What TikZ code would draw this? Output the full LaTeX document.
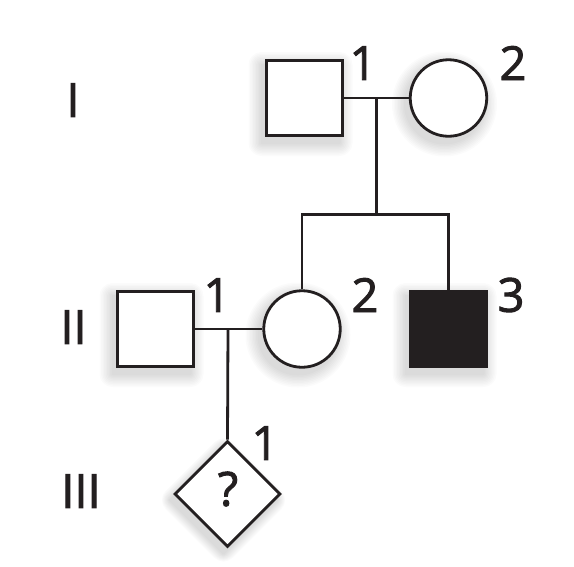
\documentclass[tikz,border=0pt]{standalone}
\usepackage{fontspec}
\setmainfont{Open Sans}
\newfontfamily\labelfont{Open Sans}[FakeBold=2]
\usetikzlibrary{shapes.geometric}
\definecolor{ink}{HTML}{231F20}
\tikzset{
  person/.style={draw=ink, line width=2.8pt, fill=white, inner sep=0pt},
  male/.style={person, rectangle, minimum size=75.5pt},
  female/.style={person, circle, minimum size=76.5pt},
  unknown/.style={person, diamond, minimum size=106pt},
  affected/.style={fill=ink},
  num/.style={inner sep=0pt, text=ink, font=\fontsize{47}{47}\labelfont},
  link/.style={draw=ink, line width=2.8pt},
  shade/.style={fill=black, opacity=0.016},
}
\newcommand\shadowsq[2]{%
  \foreach \s in {2,5,...,26}{\fill[shade, rounded corners=\s*0.5pt] (#1-4-39-\s/2,#2+6-39-\s/2) rectangle ++(78+\s,78+\s);}}
\newcommand\shadowci[2]{%
  \foreach \s in {2,5,...,26}{\fill[shade] (#1-4,#2+6) circle ({39.5+\s/2});}}
\newcommand\shadowdi[2]{%
  \foreach \s in {2,5,...,26}{\fill[shade, rounded corners=\s*0.5pt] (#1-4,#2+6-54-\s/2) -- (#1-4+54+\s/2,#2+6) -- (#1-4,#2+6+54+\s/2) -- (#1-4-54-\s/2,#2+6) -- cycle;}}
\begin{document}
\begin{tikzpicture}[x=1pt,y=-1pt]
\useasboundingbox[fill=white] (0,0) rectangle (574,566);
% soft shadows
\shadowsq{304.5}{98}
\shadowci{448.5}{98}
\shadowsq{155.5}{329}
\shadowci{302}{329}
\shadowsq{448.5}{329}
\shadowdi{227.5}{494}
% generation I
\node[male] (I1) at (304.5,98) {};
\node[female] (I2) at (448.5,98) {};
% generation II
\node[male] (II1) at (155.5,329) {};
\node[female] (II2) at (302,329) {};
\node[male,affected] (II3) at (448.5,329) {};
% generation III
\node[unknown] (III1) at (227.5,494) {};
\node[num] (q) at (228,489) {?};
% connectors
\coordinate (m1) at (376.5,98);
\coordinate (s1) at (376.5,214.5);
\coordinate (m2) at (228,329);
\draw[link] (I1.east) -- (I2.west);
\draw[link] (m1) -- (s1);
\draw[link] (II2.north) |- (s1) -| (II3.north);
\draw[link] (II1.east) -- (II2.west);
\draw[link] (m2) -- (III1.north);
% labels
\node[num] (lI1) at (363,63) {1};
\node[num] (lI2) at (513,63) {2};
\node[num] (lII1) at (217,295) {1};
\node[num] (lII2) at (365,295) {2};
\node[num] (lII3) at (511,295) {3};
\node[num] (lIII1) at (265,443) {1};
\node[num] (gI) at (73,100) {I};
\node[num] (gII) at (73.5,327) {II};
\node[num] (gIII) at (81,491) {III};
\end{tikzpicture}
\end{document}
